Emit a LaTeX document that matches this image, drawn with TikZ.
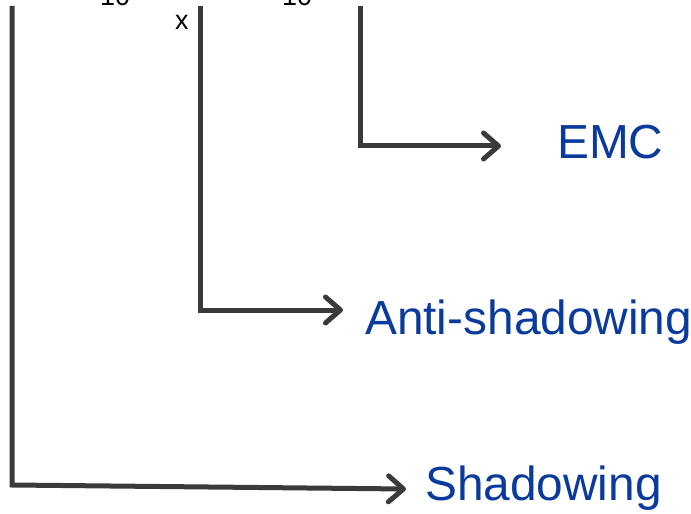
\documentclass[tikz,border=0pt]{standalone}
\usepackage{fontspec}
\setmainfont{Liberation Sans}
\usetikzlibrary{arrows.meta}
\definecolor{linegray}{HTML}{3A3A3A}
\definecolor{labelblue}{HTML}{0A3A9C}
\begin{document}
\begin{tikzpicture}[x=1bp,y=-1bp,
  bracket/.style={draw=linegray,line width=5bp,line join=miter,
    -{Straight Barb[length=15bp,width=26bp,line width=5bp,round]}},
  outcome/.style={anchor=base west,inner sep=0pt,text=labelblue,
    font=\fontsize{48}{50}\selectfont},
  axislabel/.style={anchor=base west,inner sep=0pt,text=black,
    font=\fontsize{27}{30}\selectfont}]
\useasboundingbox (0,0) rectangle (691,514);
% partial axis labels along the top edge
\node[axislabel] (t1) at (100,6) {10};
\node[axislabel] (tx) at (175,30) {x};
\node[axislabel] (t2) at (282,6) {10};
% outcome labels
\node[outcome] (emc)  at (557,159) {EMC};
\node[outcome] (anti) at (365,334) {Anti-shadowing};
\node[outcome] (shad) at (425,500) {Shadowing};
% bracket corners and tips
\coordinate (v3top) at (360,6);
\coordinate (v3bot) at (360,146);
\coordinate (tip3)  at (501,146);
\coordinate (v2top) at (200,6);
\coordinate (v2bot) at (200,310);
\coordinate (tip2)  at (343,310);
\coordinate (v1top) at (12,6);
\coordinate (v1bot) at (12,485);
\coordinate (tip1)  at (406,489);
\draw[bracket] (v3top) -- (v3bot) -- (tip3);
\draw[bracket] (v2top) -- (v2bot) -- (tip2);
\draw[bracket] (v1top) -- (v1bot) -- (tip1);
\end{tikzpicture}
\end{document}
